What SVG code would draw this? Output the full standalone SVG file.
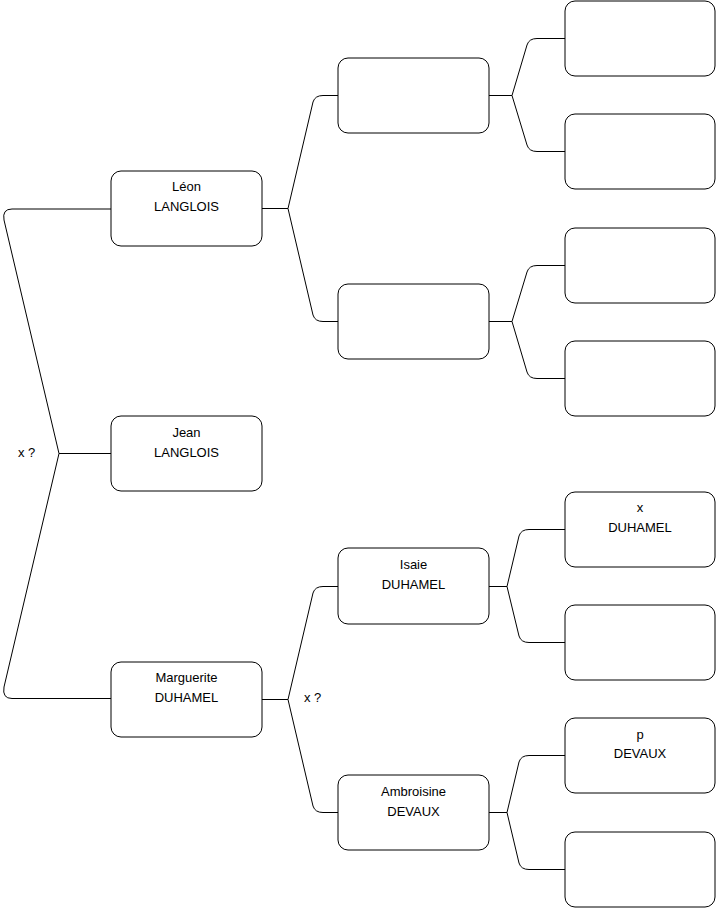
<svg xmlns="http://www.w3.org/2000/svg" width="716" height="908" viewBox="0 0 716 908">
<style>
.box{fill:#fff;stroke:#000;stroke-width:1}
.ln{fill:none;stroke:#000;stroke-width:1}
text{font-family:"Liberation Sans",Arial,sans-serif;font-size:13px;fill:#000;text-anchor:middle}
.lab{text-anchor:start}
</style>
<rect width="716" height="908" fill="#fff"/>
<g id="connectors">
<path class="ln" d="M111,453.5 L59,453.5 L4,220 Q2,209 12,209 L111,209"/>
<path class="ln" d="M59,453.5 L4,687 Q2,698.5 12,698.5 L111,698.5"/>
<path class="ln" d="M262,208.5 L288,208.5 L313,102 Q315,95.5 323,95.5 L338,95.5"/>
<path class="ln" d="M288,208.5 L313,315 Q315,321.5 323,321.5 L338,321.5"/>
<path class="ln" d="M489,95.5 L512,95.5 L527,45 Q529,38.5 537,38.5 L565,38.5"/>
<path class="ln" d="M512,95.5 L527,145 Q529,151.5 537,151.5 L565,151.5"/>
<path class="ln" d="M489,321.5 L512,321.5 L527,272 Q529,265.5 537,265.5 L565,265.5"/>
<path class="ln" d="M512,321.5 L527,372 Q529,378.5 537,378.5 L565,378.5"/>
<path class="ln" d="M262,699.5 L288,699.5 L313,593 Q315,586.5 323,586.5 L338,586.5"/>
<path class="ln" d="M288,699.5 L313,806 Q315,812.5 323,812.5 L338,812.5"/>
<path class="ln" d="M489,586.5 L507,586.5 L519,536 Q521,529.5 529,529.5 L565,529.5"/>
<path class="ln" d="M507,586.5 L519,636 Q521,642.5 529,642.5 L565,642.5"/>
<path class="ln" d="M489,812.5 L507,812.5 L519,762 Q521,755.5 529,755.5 L565,755.5"/>
<path class="ln" d="M507,812.5 L519,863 Q521,869.5 529,869.5 L565,869.5"/>
<text class="lab" x="18" y="456.5">x ?</text>
<text class="lab" x="304" y="702">x ?</text>
</g>
<g id="leon"><rect class="box" x="111" y="171" width="151" height="75" rx="10"/><text x="186.5" y="191">Léon</text><text x="186.5" y="211">LANGLOIS</text></g>
<g id="jean"><rect class="box" x="111" y="416" width="151" height="75" rx="10"/><text x="186.5" y="437">Jean</text><text x="186.5" y="457">LANGLOIS</text></g>
<g id="marguerite"><rect class="box" x="111" y="662" width="151" height="75" rx="10"/><text x="186.5" y="682">Marguerite</text><text x="186.5" y="702">DUHAMEL</text></g>
<g id="p1"><rect class="box" x="338" y="58" width="151" height="75" rx="10"/></g>
<g id="p2"><rect class="box" x="338" y="284" width="151" height="75" rx="10"/></g>
<g id="isaie"><rect class="box" x="338" y="548" width="151" height="76" rx="10"/><text x="413.5" y="568.5">Isaie</text><text x="413.5" y="588.5">DUHAMEL</text></g>
<g id="ambroisine"><rect class="box" x="338" y="775" width="151" height="75" rx="10"/><text x="413.5" y="795.5">Ambroisine</text><text x="413.5" y="815.5">DEVAUX</text></g>
<g id="g1"><rect class="box" x="565" y="1" width="150" height="75" rx="10"/></g>
<g id="g2"><rect class="box" x="565" y="114" width="150" height="75" rx="10"/></g>
<g id="g3"><rect class="box" x="565" y="228" width="150" height="75" rx="10"/></g>
<g id="g4"><rect class="box" x="565" y="341" width="150" height="75" rx="10"/></g>
<g id="xduhamel"><rect class="box" x="565" y="492" width="150" height="75" rx="10"/><text x="640" y="512">x</text><text x="640" y="532">DUHAMEL</text></g>
<g id="g6"><rect class="box" x="565" y="605" width="150" height="75" rx="10"/></g>
<g id="pdevaux"><rect class="box" x="565" y="718" width="150" height="75" rx="10"/><text x="640" y="738.5">p</text><text x="640" y="758">DEVAUX</text></g>
<g id="g8"><rect class="box" x="565" y="832" width="150" height="75" rx="10"/></g>
</svg>
